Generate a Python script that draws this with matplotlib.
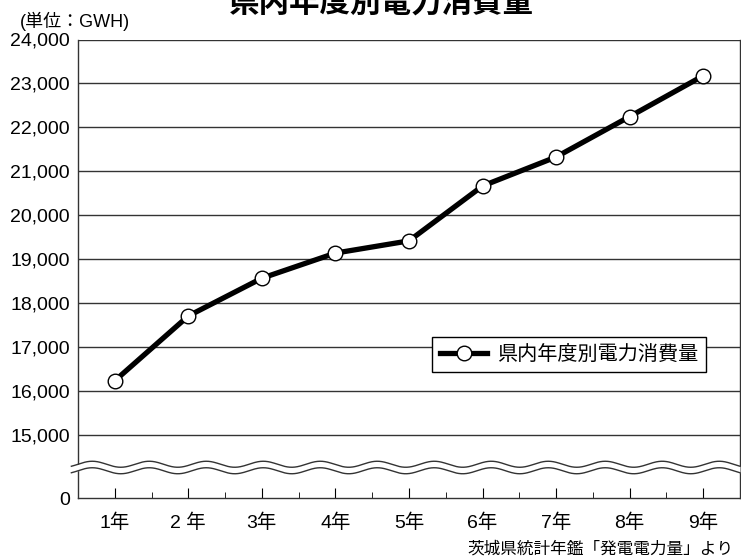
import numpy as np
import matplotlib
matplotlib.use("Agg")
import matplotlib.pyplot as plt

plt.rcParams['font.family'] = ['Liberation Sans', 'Noto Sans CJK JP', 'DejaVu Sans']

# data
years = [1, 2, 3, 4, 5, 6, 7, 8, 9]
year_labels = ["1年", "2 年", "3年", "4年", "5年", "6年", "7年", "8年", "9年"]
consumption = [16230, 17705, 18565, 19137, 19415, 20665, 21325, 22245, 23175]
ytick_vals = [0, 15000, 16000, 17000, 18000, 19000, 20000, 21000, 22000, 23000, 24000]

# broken y axis: 0..15000 squeezed into a short band under 15000
LOW = 13560.0
K = (15000.0 - LOW) / 15000.0


def fwd(v):
    v = np.asarray(v, dtype=float)
    return np.where(v >= 15000, v, LOW + v * K)


def inv(u):
    u = np.asarray(u, dtype=float)
    return np.where(u >= 15000, u, (u - LOW) / K)


fig = plt.figure(figsize=(7.41, 5.56), dpi=100)
ax = fig.add_axes([78 / 741, 58 / 556, 662 / 741, 458.5 / 556])
ax.set_yscale('function', functions=(fwd, inv))
ax.set_ylim(0, 24000)
ax.set_xlim(0.5, 9.5)

for v in ytick_vals[1:]:
    ax.axhline(v, color='#333333', lw=1.0, zorder=1)

ax.plot(years, consumption, color='black', lw=3.8, marker='o', markersize=10.5,
        markerfacecolor='white', markeredgecolor='black', markeredgewidth=1.0,
        label='県内年度別電力消費量', zorder=3)

ax.set_yticks(ytick_vals)
ax.set_yticklabels([f"{v:,}" for v in ytick_vals])
ax.set_xticks(years)
ax.set_xticklabels(year_labels)
ax.set_xticks(np.arange(1.5, 9.5, 1.0), minor=True)
ax.tick_params(axis='y', length=0, pad=6, labelsize=14)
ax.tick_params(axis='x', which='major', direction='in', length=7, pad=11, labelsize=14)
ax.tick_params(axis='x', which='minor', direction='in', length=4)
ax.tick_params(axis='y', which='minor', length=0)

for s in ['left', 'bottom', 'right']:
    ax.spines[s].set_color('#333333')
    ax.spines[s].set_linewidth(1.0)
ax.spines['top'].set_visible(False)

# wavy break marks
xw = np.linspace(-0.01, 1.0, 800)
period = 57 / 662
amp = 3.0 / 458.5
yc = (498 - 467.5) / 458.5
gap = 6.5 / 458.5
wave = amp * np.sin(2 * np.pi * xw / period)
upper = yc + gap / 2 + wave
lower = yc - gap / 2 + wave
ax.fill_between(xw, lower, upper, color='white', transform=ax.transAxes,
                clip_on=False, zorder=4, lw=0)
ax.plot(xw, upper, color='#333333', lw=1.0, transform=ax.transAxes, clip_on=False, zorder=5)
ax.plot(xw, lower, color='#333333', lw=1.0, transform=ax.transAxes, clip_on=False, zorder=5)

leg = ax.legend(loc='center', bbox_to_anchor=(0.742, 0.313), fontsize=14.5, frameon=True,
                fancybox=False, framealpha=1, edgecolor='black', handlelength=2.3,
                borderpad=0.4, handletextpad=0.5)
leg.get_frame().set_linewidth(1.0)
leg.set_zorder(6)

fig.text(0.515, 1 - 12 / 556, '県内年度別電力消費量', ha='center', va='baseline',
         fontsize=22, fontweight='bold')
fig.text(20 / 741, 1 - 21 / 556, '(単位：GWH)', ha='left', va='center', fontsize=13)
fig.text(733 / 741, 1 - 549 / 556, '茨城県統計年鑑「発電電力量」より', ha='right', va='center',
         fontsize=12)

fig.savefig('out.png', dpi=100)
